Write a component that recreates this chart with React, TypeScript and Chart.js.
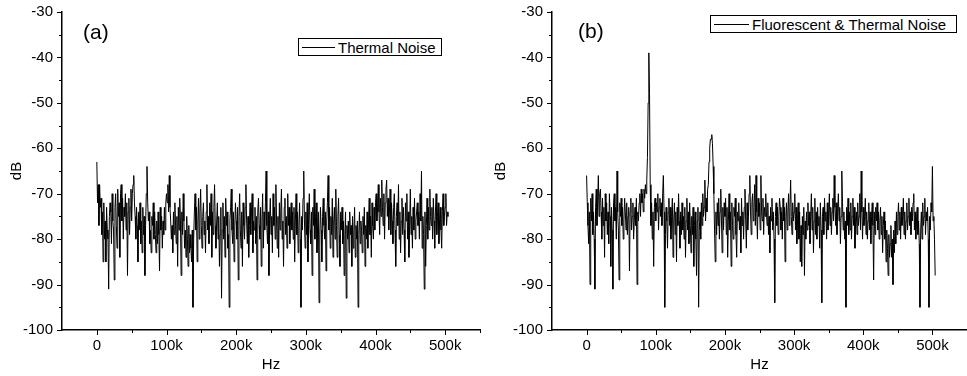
import React, { useEffect, useRef } from "react";
import { Chart, registerables } from "chart.js";

Chart.register(...registerables);

// frequency bin spacing (Hz) of the spectra
const FREQ_STEP = 1000;

// axis ranges
const X_MIN = -50000;
const X_MAX = 550000;
const Y_MIN = -100;
const Y_MAX = -30;

// (a) Thermal noise spectrum, dB, one value per 1 kHz bin (0 .. 504 kHz)
const thermalNoise = [
  -63, -72, -68, -77, -68, -73, -71, -79, -74, -85, -72, -80, -76, -85, -73, -78, -80, -91, -75, -72,
  -74, -81, -70, -76, -78, -89, -73, -70, -77, -82, -69, -75, -72, -84, -70, -68, -76, -71, -80, -73,
  -75, -70, -78, -72, -88, -74, -71, -79, -73, -69, -76, -70, -68, -66, -72, -75, -80, -73, -77, -85,
  -74, -78, -72, -81, -76, -83, -73, -79, -75, -88, -77, -70, -64, -72, -76, -74, -81, -78, -83, -75,
  -77, -72, -80, -74, -79, -83, -76, -81, -74, -79, -87, -73, -78, -75, -82, -76, -79, -73, -78, -72,
  -70, -72, -68, -74, -66, -73, -76, -80, -77, -83, -74, -79, -72, -77, -81, -75, -86, -73, -78, -71,
  -76, -88, -74, -79, -70, -76, -82, -78, -84, -75, -80, -86, -77, -83, -79, -82, -85, -78, -95, -80,
  -74, -70, -78, -73, -85, -76, -71, -80, -74, -69, -77, -82, -75, -72, -79, -76, -83, -74, -68, -78,
  -75, -81, -72, -77, -70, -84, -74, -79, -73, -68, -77, -82, -76, -72, -80, -75, -86, -79, -73, -93,
  -78, -72, -80, -75, -84, -71, -77, -74, -82, -79, -95, -76, -73, -69, -78, -81, -74, -85, -77, -72,
  -76, -80, -73, -89, -75, -70, -78, -82, -74, -86, -72, -77, -80, -73, -68, -76, -81, -75, -84, -77,
  -72, -79, -74, -70, -83, -76, -78, -73, -81, -75, -89, -74, -71, -77, -80, -73, -86, -76, -70, -82,
  -74, -78, -72, -65, -77, -81, -74, -88, -76, -71, -79, -75, -83, -70, -77, -73, -80, -68, -76, -82,
  -75, -84, -72, -78, -74, -69, -80, -76, -86, -73, -71, -79, -75, -82, -70, -77, -73, -81, -76, -72,
  -78, -74, -80, -73, -85, -76, -70, -79, -74, -83, -77, -72, -80, -95, -75, -78, -71, -65, -76, -82,
  -74, -79, -72, -85, -76, -70, -78, -81, -74, -88, -73, -77, -69, -80, -75, -72, -83, -77, -74, -94,
  -79, -73, -78, -85, -75, -71, -77, -80, -74, -87, -76, -72, -66, -78, -73, -82, -75, -79, -71, -84,
  -76, -73, -80, -69, -77, -84, -75, -71, -79, -86, -74, -78, -73, -81, -76, -88, -79, -74, -93, -77,
  -80, -76, -83, -74, -79, -77, -86, -75, -82, -78, -73, -84, -77, -80, -76, -95, -79, -74, -81, -76,
  -78, -83, -75, -79, -73, -86, -77, -80, -74, -82, -76, -71, -79, -75, -84, -72, -77, -80, -73, -78,
  -72, -70, -76, -73, -68, -74, -79, -71, -75, -67, -73, -77, -70, -80, -72, -69, -67, -75, -71, -78,
  -74, -69, -79, -72, -76, -81, -73, -70, -78, -86, -75, -72, -77, -68, -80, -74, -83, -76, -71, -79,
  -73, -78, -85, -72, -76, -70, -80, -74, -84, -77, -69, -79, -75, -82, -73, -78, -71, -80, -76, -74,
  -72, -77, -74, -80, -70, -76, -65, -82, -75, -79, -91, -74, -86, -77, -71, -80, -73, -78, -69, -75,
  -77, -73, -80, -71, -76, -82, -74, -70, -79, -75, -72, -81, -76, -73, -78, -82, -74, -70, -77, -75,
  -73, -70, -77, -74, -75,
];

// (b) Fluorescent & thermal noise spectrum, dB, one value per 1 kHz bin
const fluorescentNoise = [
  -66, -72, -77, -81, -74, -90, -71, -76, -70, -79, -74, -80, -91, -73, -69, -77, -72, -66, -75, -70,
  -69, -74, -80, -71, -77, -73, -84, -70, -76, -72, -79, -74, -81, -70, -75, -86, -73, -78, -91, -72,
  -70, -76, -73, -80, -65, -74, -78, -89, -72, -75, -71, -77, -73, -80, -76, -71, -74, -78, -72, -79,
  -75, -73, -87, -74, -71, -78, -75, -72, -80, -76, -73, -77, -71, -90, -74, -76, -72, -70, -75, -69,
  -72, -70, -74, -69, -71, -68, -70, -67, -62, -50, -39, -48, -68, -77, -72, -80, -74, -86, -73, -71,
  -76, -72, -74, -70, -78, -73, -71, -75, -72, -77, -70, -66, -74, -95, -79, -73, -76, -82, -74, -71,
  -77, -73, -80, -75, -71, -84, -76, -72, -79, -74, -85, -73, -77, -70, -76, -82, -74, -79, -72, -78,
  -75, -80, -73, -84, -76, -71, -78, -74, -81, -72, -77, -83, -75, -79, -73, -86, -77, -74, -80, -88,
  -76, -73, -95, -78, -74, -80, -72, -77, -70, -75, -73, -67, -76, -71, -74, -69, -68, -63, -60, -58,
  -58, -57, -59, -64, -70, -78, -85, -74, -79, -72, -77, -71, -80, -74, -69, -76, -83, -73, -78, -72,
  -75, -71, -79, -73, -84, -76, -70, -78, -74, -86, -72, -77, -80, -73, -75, -71, -79, -84, -74, -76,
  -72, -78, -75, -83, -71, -77, -74, -80, -73, -69, -76, -82, -72, -78, -75, -70, -66, -74, -79, -72,
  -70, -76, -73, -68, -77, -66, -74, -80, -71, -75, -72, -78, -66, -74, -76, -71, -79, -73, -75, -70,
  -74, -77, -72, -79, -75, -83, -73, -76, -71, -78, -74, -80, -94, -75, -72, -77, -73, -79, -75, -71,
  -73, -78, -74, -80, -71, -76, -73, -85, -75, -72, -78, -74, -70, -77, -73, -67, -75, -79, -72, -76,
  -74, -70, -78, -73, -81, -76, -72, -80, -74, -85, -77, -86, -75, -79, -73, -88, -76, -80, -74, -78,
  -72, -77, -74, -81, -75, -70, -78, -73, -83, -76, -71, -79, -74, -80, -73, -77, -75, -82, -72, -78,
  -94, -75, -73, -79, -71, -76, -74, -80, -72, -78, -75, -70, -77, -73, -79, -74, -71, -76, -66, -73,
  -77, -72, -79, -74, -70, -76, -73, -81, -75, -65, -72, -78, -74, -80, -76, -95, -73, -77, -71, -79,
  -74, -78, -72, -80, -75, -71, -77, -73, -82, -76, -74, -79, -72, -77, -75, -70, -78, -65, -74, -80,
  -73, -77, -75, -71, -79, -74, -80, -76, -72, -78, -74, -81, -75, -72, -77, -89, -74, -79, -73, -76,
  -72, -78, -74, -80, -76, -73, -79, -75, -83, -77, -74, -80, -76, -85, -78, -82, -88, -79, -84, -81,
  -77, -84, -80, -90, -78, -83, -76, -81, -74, -79, -75, -72, -78, -74, -80, -73, -77, -75, -71, -79,
  -74, -80, -76, -72, -78, -75, -71, -77, -74, -79, -73, -76, -72, -70, -78, -74, -80, -76, -73, -79,
  -76, -81, -95, -78, -74, -80, -72, -77, -75, -71, -79, -74, -76, -73, -80, -95, -75, -78, -72, -74,
  -64, -76, -75, -80, -88,
];

const FONT = "'Liberation Sans', Arial, Helvetica, sans-serif";

const tickPlugin = {
  id: "originTicks",
  afterDraw(chart: any) {
    const ctx = chart.ctx;
    const area = chart.chartArea;
    const xs = chart.scales.x;
    const ys = chart.scales.y;
    ctx.save();
    ctx.strokeStyle = "#000";
    ctx.lineWidth = 1;
    xs.ticks.forEach((t: any) => {
      if (t.value <= xs.min) return;
      const px = Math.round(xs.getPixelForValue(t.value)) + 0.5;
      const len = t.value % 100000 === 0 ? 5 : 3;
      ctx.beginPath();
      ctx.moveTo(px, area.bottom);
      ctx.lineTo(px, area.bottom + len);
      ctx.stroke();
    });
    ys.ticks.forEach((t: any) => {
      const py = Math.round(ys.getPixelForValue(t.value)) + 0.5;
      const len = t.value % 10 === 0 ? 5 : 3;
      ctx.beginPath();
      ctx.moveTo(area.left, py);
      ctx.lineTo(area.left - len, py);
      ctx.stroke();
    });
    ctx.restore();
  },
};

function makeConfig(values: number[], yWidth: number, padRight: number) {
  return {
    type: "line" as const,
    data: {
      datasets: [
        {
          data: values.map((v, i) => ({ x: i * FREQ_STEP, y: v })),
          borderColor: "#000",
          borderWidth: 1,
          pointRadius: 0,
          tension: 0,
          fill: false,
        },
      ],
    },
    options: {
      responsive: false,
      animation: false as const,
      layout: { padding: { top: 12, left: 0, right: padRight, bottom: 0 } },
      plugins: { legend: { display: false }, tooltip: { enabled: false } },
      scales: {
        x: {
          type: "linear" as const,
          min: X_MIN,
          max: X_MAX,
          afterFit: (s: any) => {
            s.height = 46;
            s.paddingLeft = 0;
            s.paddingRight = 0;
          },
          ticks: {
            stepSize: 50000,
            autoSkip: false,
            maxRotation: 0,
            padding: 7,
            color: "#000",
            font: { family: FONT, size: 15 },
            callback: (v: any) => {
              const n = Number(v);
              if (n < 0 || n % 100000 !== 0) return "";
              return n === 0 ? "0" : n / 1000 + "k";
            },
          },
          grid: { display: true, drawOnChartArea: false, drawTicks: false },
          border: { display: true, color: "#000", width: 1.5 },
          title: {
            display: true,
            text: "Hz",
            color: "#000",
            font: { family: FONT, size: 15 },
            padding: { top: 0, bottom: 2 },
          },
        },
        y: {
          min: Y_MIN,
          max: Y_MAX,
          afterFit: (s: any) => {
            s.width = yWidth;
            s.paddingTop = 0;
            s.paddingBottom = 0;
          },
          ticks: {
            stepSize: 5,
            padding: 9,
            color: "#000",
            font: { family: FONT, size: 15 },
            callback: (v: any) => (Number(v) % 10 === 0 ? String(v) : ""),
          },
          grid: { display: true, drawOnChartArea: false, drawTicks: false },
          border: { display: true, color: "#000", width: 1.5 },
          title: {
            display: true,
            text: "dB",
            color: "#000",
            font: { family: FONT, size: 15 },
            padding: { top: 8, bottom: 0 },
          },
        },
      },
    },
    plugins: [tickPlugin],
  };
}

function Panel(props: {
  left: number;
  width: number;
  values: number[];
  yWidth: number;
  padRight: number;
  tag: string;
  tagLeft: number;
  tagTop: number;
  legend: string;
  legendBox: { left: number; top: number; width: number; lineW: number };
}) {
  const ref = useRef<HTMLCanvasElement | null>(null);
  useEffect(() => {
    if (!ref.current) return;
    const chart = new Chart(ref.current, makeConfig(props.values, props.yWidth, props.padRight) as any);
    return () => chart.destroy();
  }, []);
  const lb = props.legendBox;
  return (
    <div style={{ position: "absolute", left: props.left, top: 0, width: props.width, height: 376 }}>
      <canvas ref={ref} width={props.width} height={376} style={{ display: "block" }} />
      <div
        style={{
          position: "absolute",
          left: props.tagLeft,
          top: props.tagTop,
          fontFamily: FONT,
          fontSize: 21,
          lineHeight: "21px",
          color: "#000",
        }}
      >
        {props.tag}
      </div>
      <div
        style={{
          position: "absolute",
          left: lb.left,
          top: lb.top,
          width: lb.width,
          height: 18,
          boxSizing: "border-box",
          border: "1px solid #000",
          background: "#fff",
          display: "flex",
          alignItems: "center",
          fontFamily: FONT,
          fontSize: 15,
          color: "#000",
          whiteSpace: "nowrap",
        }}
      >
        <span
          style={{
            display: "inline-block",
            width: lb.lineW,
            height: 1,
            background: "#000",
            marginLeft: 3,
            marginRight: 3,
          }}
        />
        <span>{props.legend}</span>
      </div>
    </div>
  );
}

export default function App() {
  return (
    <div style={{ position: "absolute", left: 0, top: 0, width: 967, height: 376, background: "#fff" }}>
      <Panel
        left={0}
        width={484}
        values={thermalNoise}
        yWidth={62}
        padRight={4}
        tag="(a)"
        tagLeft={83}
        tagTop={21}
        legend="Thermal Noise"
        legendBox={{ left: 298, top: 38, width: 144, lineW: 33 }}
      />
      <Panel
        left={484}
        width={483}
        values={fluorescentNoise}
        yWidth={68}
        padRight={0}
        tag="(b)"
        tagLeft={94}
        tagTop={20}
        legend="Fluorescent & Thermal Noise"
        legendBox={{ left: 226, top: 15, width: 247, lineW: 35 }}
      />
    </div>
  );
}
